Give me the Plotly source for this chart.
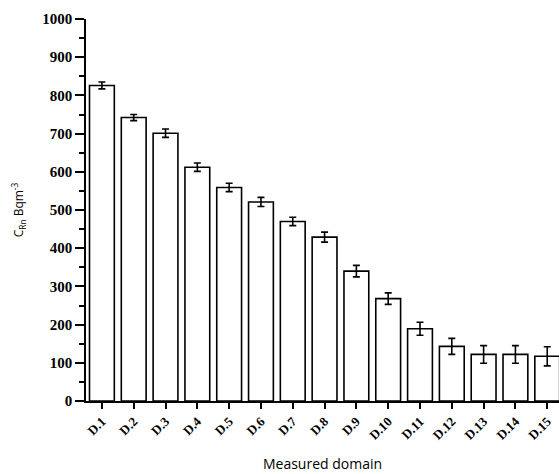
import plotly.graph_objects as go

categories = ["D.1", "D.2", "D.3", "D.4", "D.5", "D.6", "D.7", "D.8",
              "D.9", "D.10", "D.11", "D.12", "D.13", "D.14", "D.15"]
values = [826, 742, 701, 612, 559, 521, 470, 429, 340, 268, 189, 143, 122, 122, 117]
errors = [9, 8, 11, 11, 11, 12, 11, 13, 15, 15, 17, 21, 23, 23, 25]
y_ticks = [0, 100, 200, 300, 400, 500, 600, 700, 800, 900, 1000]

x_pos = list(range(1, len(categories) + 1))

fig = go.Figure()
fig.add_trace(go.Bar(
    x=x_pos, y=values, width=0.78,
    marker=dict(color="white", line=dict(color="black", width=1.6)),
    error_y=dict(type="data", array=errors, color="black", thickness=1.6, width=3.5),
))

tick_font = dict(family="Liberation Serif", size=15, color="black")
fig.update_layout(
    width=559, height=474,
    margin=dict(l=86, r=0, t=19, b=73),
    paper_bgcolor="white", plot_bgcolor="white",
    showlegend=False,
    bargap=0.2,
    xaxis=dict(
        range=[0.5, 15.37], tickvals=x_pos, ticktext=[f"<b>{c}</b>" for c in categories],
        tickangle=-45, tickfont=dict(family="Liberation Serif", size=13, color="black"),
        showline=True, linecolor="black", linewidth=1.5,
        ticks="outside", ticklen=6, tickwidth=1.5, tickcolor="black",
        showgrid=False, zeroline=False,
        title=dict(text="Measured domain", font=dict(family="Open Sans", size=14, color="black"), standoff=18),
    ),
    yaxis=dict(
        range=[0, 1000], tickvals=y_ticks, ticktext=[f"<b>{v}</b>" for v in y_ticks],
        tickfont=tick_font,
        showline=True, linecolor="black", linewidth=1.5,
        ticks="outside", ticklen=9, tickwidth=1.5, tickcolor="black",
        minor=dict(dtick=50, ticks="outside", ticklen=5, tickwidth=1.5, tickcolor="black", showgrid=False),
        showgrid=False, zeroline=False,
        title=dict(text="C<sub>Rn</sub> Bqm<sup>-3</sup>", font=dict(family="Open Sans", size=12, color="black"), standoff=16),
    ),
)

fig.write_html("out.html")
